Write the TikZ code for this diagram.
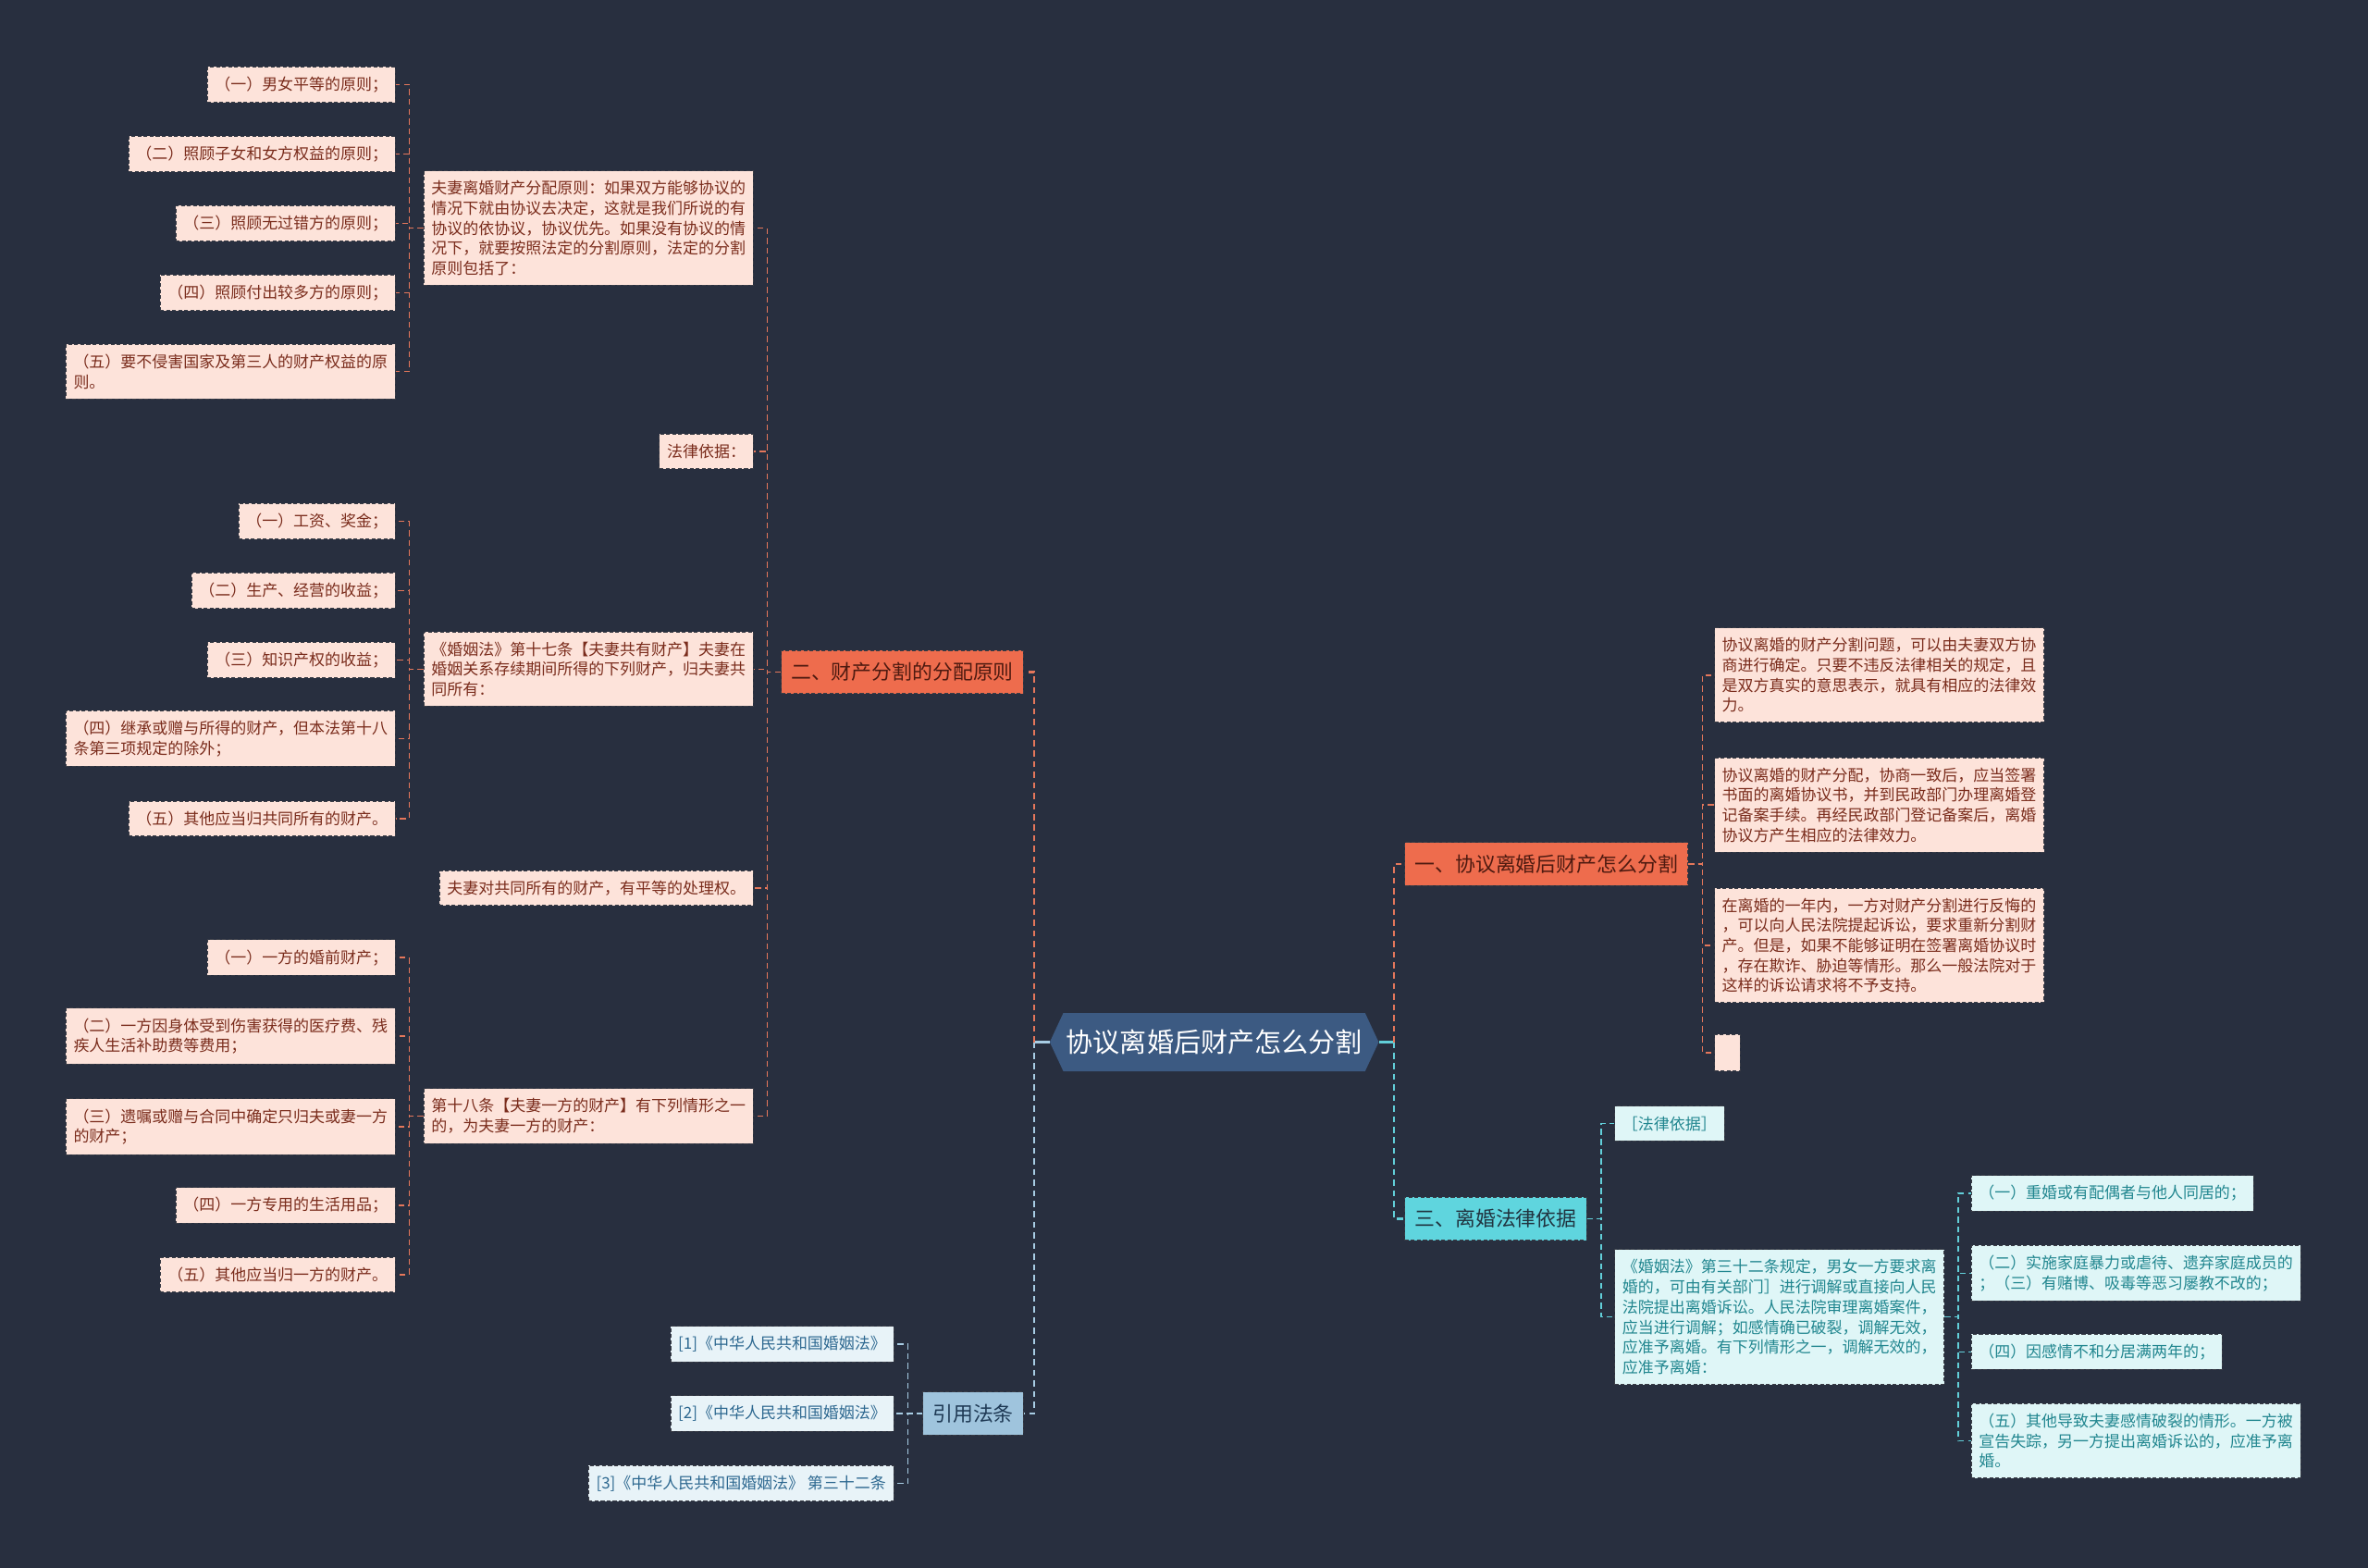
\documentclass[tikz,border=0pt]{standalone}
\usepackage{fontspec}
\setmainfont{Noto Sans CJK SC}
\usetikzlibrary{shapes.symbols}
\definecolor{bgnavy}{HTML}{282F3F}
\definecolor{rootblue}{HTML}{3C5A82}
\definecolor{orfill}{HTML}{EE6C4D}
\definecolor{ortext}{HTML}{4E1A10}
\definecolor{pkfill}{HTML}{FDE3DA}
\definecolor{pktext}{HTML}{7A2C1C}
\definecolor{orline}{HTML}{E5775B}
\definecolor{cyfill}{HTML}{5FD5DE}
\definecolor{cytext}{HTML}{213440}
\definecolor{cyleaf}{HTML}{DFF6F7}
\definecolor{cyleaftext}{HTML}{21868F}
\definecolor{cyline}{HTML}{62CFD9}
\definecolor{rffill}{HTML}{9FC4DD}
\definecolor{rftext}{HTML}{1F3A55}
\definecolor{rfleaf}{HTML}{E8F3F8}
\definecolor{rfleaftext}{HTML}{2D6890}
\definecolor{rfline}{HTML}{A8CDE4}
\definecolor{boxedge}{HTML}{3A3D46}

\begin{document}
\begin{tikzpicture}[x=1pt,y=-1pt,
  box/.style={draw=boxedge,dash pattern=on 2.5pt off 1.5pt,line width=0.6pt,inner xsep=5pt,inner ysep=6.5pt,
    minimum height=23pt,align=left,font=\fontsize{10.4}{13.3}\selectfont},
  pk/.style={box,fill=pkfill,text=pktext},
  cyl/.style={box,fill=cyleaf,text=cyleaftext},
  rfl/.style={box,fill=rfleaf,text=rfleaftext},
  branch/.style={draw=boxedge,dash pattern=on 2.5pt off 1.5pt,line width=0.6pt,inner xsep=6.5pt,inner ysep=8pt,
    font=\fontsize{13.4}{16}\selectfont},
  link/.style={line width=0.9pt,dash pattern=on 4pt off 2.5pt},
  trunk/.style={line width=1.4pt,dash pattern=on 4pt off 3pt}]
  \fill[bgnavy] (0,0) rectangle (1568,1038);
  \useasboundingbox (0,0) rectangle (1568,1038);

  \node[signal,signal to=east and west,signal pointer angle=130,fill=rootblue,text=white,
    inner xsep=2pt,inner ysep=11pt,font=\fontsize{17.8}{20}\selectfont] (root) at (804,690) {协议离婚后财产怎么分割};

  \node[branch,fill=orfill,text=ortext,anchor=east] (b2) at (678,445) {二、财产分割的分配原则};
  \node[branch,fill=rffill,text=rftext,anchor=east] (b4) at (678,936) {引用法条};
  \node[branch,fill=orfill,text=ortext,anchor=west] (b1) at (930,572) {一、协议离婚后财产怎么分割};
  \node[branch,fill=cyfill,text=cytext,anchor=west] (b3) at (930,807) {三、离婚法律依据};

  \node[pk,anchor=east] (m1) at (499,151) {夫妻离婚财产分配原则：如果双方能够协议的\\情况下就由协议去决定，这就是我们所说的有\\协议的依协议，协议优先。如果没有协议的情\\况下，就要按照法定的分割原则，法定的分割\\原则包括了：};
  \node[pk,anchor=east] (m2) at (499,299) {法律依据：};
  \node[pk,anchor=east] (m3) at (499,443) {《婚姻法》第十七条【夫妻共有财产】夫妻在\\婚姻关系存续期间所得的下列财产，归夫妻共\\同所有：};
  \node[pk,anchor=east] (m4) at (499,588) {夫妻对共同所有的财产，有平等的处理权。};
  \node[pk,anchor=east] (m5) at (499,739) {第十八条【夫妻一方的财产】有下列情形之一\\的，为夫妻一方的财产：};

  \node[pk,anchor=east] (a1) at (262,56) {（一）男女平等的原则；};
  \node[pk,anchor=east] (a2) at (262,102) {（二）照顾子女和女方权益的原则；};
  \node[pk,anchor=east] (a3) at (262,148) {（三）照顾无过错方的原则；};
  \node[pk,anchor=east] (a4) at (262,194) {（四）照顾付出较多方的原则；};
  \node[pk,anchor=east] (a5) at (262,246) {（五）要不侵害国家及第三人的财产权益的原\\则。};

  \node[pk,anchor=east] (c1) at (262,345) {（一）工资、奖金；};
  \node[pk,anchor=east] (c2) at (262,391) {（二）生产、经营的收益；};
  \node[pk,anchor=east] (c3) at (262,437) {（三）知识产权的收益；};
  \node[pk,anchor=east] (c4) at (262,489) {（四）继承或赠与所得的财产，但本法第十八\\条第三项规定的除外；};
  \node[pk,anchor=east] (c5) at (262,542) {（五）其他应当归共同所有的财产。};

  \node[pk,anchor=east] (d1) at (262,634) {（一）一方的婚前财产；};
  \node[pk,anchor=east] (d2) at (262,686) {（二）一方因身体受到伤害获得的医疗费、残\\疾人生活补助费等费用；};
  \node[pk,anchor=east] (d3) at (262,746) {（三）遗嘱或赠与合同中确定只归夫或妻一方\\的财产；};
  \node[pk,anchor=east] (d4) at (262,798) {（四）一方专用的生活用品；};
  \node[pk,anchor=east] (d5) at (262,844) {（五）其他应当归一方的财产。};

  \node[rfl,anchor=east] (f1) at (592,890) {[1]《中华人民共和国婚姻法》};
  \node[rfl,anchor=east] (f2) at (592,936) {[2]《中华人民共和国婚姻法》};
  \node[rfl,anchor=east] (f3) at (592,982) {[3]《中华人民共和国婚姻法》 第三十二条};

  \node[pk,anchor=west] (r1) at (1135,447) {协议离婚的财产分割问题，可以由夫妻双方协\\商进行确定。只要不违反法律相关的规定，且\\是双方真实的意思表示，就具有相应的法律效\\力。};
  \node[pk,anchor=west] (r2) at (1135,533) {协议离婚的财产分配，协商一致后，应当签署\\书面的离婚协议书，并到民政部门办理离婚登\\记备案手续。再经民政部门登记备案后，离婚\\协议方产生相应的法律效力。};
  \node[pk,anchor=west] (r3) at (1135,626) {在离婚的一年内，一方对财产分割进行反悔的\\，可以向人民法院提起诉讼，要求重新分割财\\产。但是，如果不能够证明在签署离婚协议时\\，存在欺诈、胁迫等情形。那么一般法院对于\\这样的诉讼请求将不予支持。};
  \node[pk,anchor=west,minimum width=17pt,minimum height=24pt,inner sep=0pt] (r4) at (1135,697) {};

  \node[cyl,anchor=west] (s1) at (1069,744) {［法律依据］};
  \node[cyl,anchor=west] (s2) at (1069,872) {《婚姻法》第三十二条规定，男女一方要求离\\婚的，可由有关部门］进行调解或直接向人民\\法院提出离婚诉讼。人民法院审理离婚案件，\\应当进行调解；如感情确已破裂，调解无效，\\应准予离婚。有下列情形之一，调解无效的，\\应准予离婚：};

  \node[cyl,anchor=west] (t1) at (1305,790) {（一）重婚或有配偶者与他人同居的；};
  \node[cyl,anchor=west] (t2) at (1305,843) {（二）实施家庭暴力或虐待、遗弃家庭成员的\\；（三）有赌博、吸毒等恶习屡教不改的；};
  \node[cyl,anchor=west] (t3) at (1305,895) {（四）因感情不和分居满两年的；};
  \node[cyl,anchor=west] (t4) at (1305,954) {（五）其他导致夫妻感情破裂的情形。一方被\\宣告失踪，另一方提出离婚诉讼的，应准予离\\婚。};

  \draw[rfline,line width=1.4pt] (root.west) -- ++(-10,0) coordinate (lhub);
  \draw[cyline,line width=1.4pt] (root.east) -- ++(10,0) coordinate (rhub);
  \draw[trunk,orline] (lhub) |- (b2.east);
  \draw[trunk,rfline] (lhub) |- (b4.east);
  \draw[trunk,orline] (rhub) |- (b1.west);
  \draw[trunk,cyline] (rhub) |- (b3.west);

  \foreach \m in {m1,m2,m3,m4,m5}
    \draw[link,orline] (b2.west) -- ++(-9,0) |- (\m.east);
  \foreach \l in {a1,a2,a3,a4,a5}
    \draw[link,orline] (m1.west) -- ++(-9.5,0) |- (\l.east);
  \foreach \l in {c1,c2,c3,c4,c5}
    \draw[link,orline] (m3.west) -- ++(-9.5,0) |- (\l.east);
  \foreach \l in {d1,d2,d3,d4,d5}
    \draw[link,orline] (m5.west) -- ++(-9.5,0) |- (\l.east);
  \foreach \f in {f1,f2,f3}
    \draw[link,rfline] (b4.west) -- ++(-9.5,0) |- (\f.east);

  \foreach \r in {r1,r2,r3,r4}
    \draw[link,orline] (b1.east) -- ++(9.5,0) |- (\r.west);
  \foreach \s in {s1,s2}
    \draw[link,cyline] (b3.east) -- ++(9.5,0) |- (\s.west);
  \foreach \t in {t1,t2,t3,t4}
    \draw[link,cyline] (s2.east) -- ++(9,0) |- (\t.west);
\end{tikzpicture}
\end{document}
